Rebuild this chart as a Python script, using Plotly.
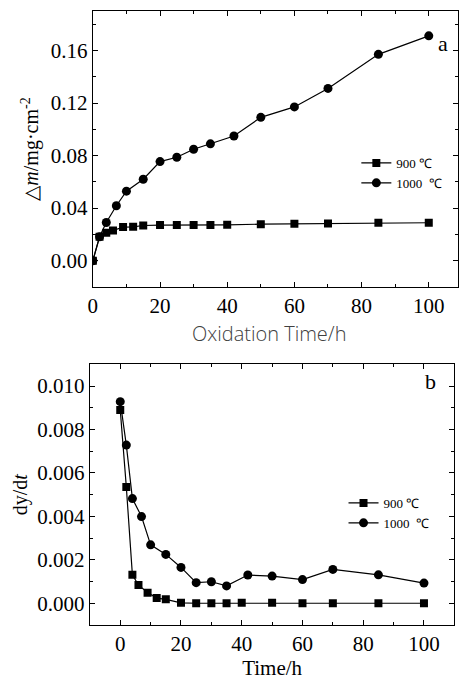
import plotly.graph_objects as go

# panel a: mass gain
t_900 = [0, 2, 4, 6, 9, 12, 15, 20, 25, 30, 35, 40, 50, 60, 70, 85, 100]
dm_900 = [0.0, 0.0182, 0.0213, 0.0230, 0.0256, 0.0258, 0.0268, 0.0271, 0.0271,
          0.0271, 0.0271, 0.0273, 0.0278, 0.0281, 0.0284, 0.0289, 0.0289]
t_1000 = [0, 2, 4, 7, 10, 15, 20, 25, 30, 35, 42, 50, 60, 70, 85, 100]
dm_1000 = [0.0, 0.0182, 0.0291, 0.0418, 0.0529, 0.0620, 0.0754, 0.0787, 0.0848,
           0.0889, 0.0949, 0.1091, 0.1170, 0.1311, 0.1570, 0.1711]

# panel b: rate
rate_900 = [0.0089, 0.00535, 0.00131, 0.00084, 0.00049, 0.00024, 0.00018, 0.00002,
            0.0, 0.0, 0.0, 0.00002, 0.00002, 0.0, 0.0, 0.0, 0.0]
rate_1000 = [0.00928, 0.00728, 0.00482, 0.00399, 0.00269, 0.00225, 0.00165, 0.00095,
             0.00099, 0.0008, 0.0013, 0.00125, 0.00109, 0.00156, 0.00131, 0.00093]

W, H = 459, 680
serif = "Liberation Serif"

fig = go.Figure()

sq = dict(symbol="square", size=8, color="black")
ci = dict(symbol="circle", size=9, color="black")
ln = dict(color="black", width=1.2)

fig.add_trace(go.Scatter(x=t_900, y=dm_900, mode="lines+markers", name="900 ℃",
                         marker=sq, line=ln, xaxis="x", yaxis="y", legend="legend"))
fig.add_trace(go.Scatter(x=t_1000, y=dm_1000, mode="lines+markers", name="1000  ℃",
                         marker=ci, line=ln, xaxis="x", yaxis="y", legend="legend"))
fig.add_trace(go.Scatter(x=t_900, y=rate_900, mode="lines+markers", name="900 ℃",
                         marker=sq, line=ln, xaxis="x2", yaxis="y2", legend="legend2"))
fig.add_trace(go.Scatter(x=t_1000, y=rate_1000, mode="lines+markers", name="1000  ℃",
                         marker=ci, line=ln, xaxis="x2", yaxis="y2", legend="legend2"))

ax = dict(showline=True, linecolor="black", linewidth=1.2, mirror="allticks",
          ticks="inside", ticklen=5, tickcolor="black", showgrid=False, zeroline=False,
          tickfont=dict(family=serif, size=21, color="black"),
          minor=dict(ticks="inside", ticklen=3, tickcolor="black"))

leg = dict(xanchor="left", yanchor="top", bgcolor="rgba(0,0,0,0)", itemwidth=30,
           font=dict(family=serif, size=13, color="black"), tracegroupgap=0)

fig.update_layout(
    width=W, height=H,
    margin=dict(l=0, r=0, t=0, b=0),
    paper_bgcolor="white", plot_bgcolor="white",
    font=dict(family=serif, color="black"),
    xaxis=dict(ax, domain=[89 / W, 1.0], range=[0, 108.7], dtick=20,
               minor=dict(ax["minor"], dtick=10), anchor="y"),
    yaxis=dict(ax, domain=[1 - 287 / H, 1 - 11 / H], range=[-0.02, 0.19], dtick=0.04,
               tickformat=".2f", minor=dict(ax["minor"], dtick=0.02), anchor="x",
               title=dict(text="△<i>m</i>/mg·cm<sup>-2</sup>", standoff=6,
                          font=dict(family=serif, size=20, color="black"))),
    xaxis2=dict(ax, domain=[86 / W, 455.3 / W], range=[-10, 110], dtick=20,
                minor=dict(ax["minor"], dtick=10), anchor="y2",
                title=dict(text="Time/h", standoff=0,
                           font=dict(family=serif, size=21, color="black"))),
    yaxis2=dict(ax, domain=[1 - 625 / H, 1 - 364.3 / H], range=[-0.001, 0.011],
                dtick=0.002, tickformat=".3f", minor=dict(ax["minor"], dtick=0.001),
                anchor="x2",
                title=dict(text="dy/d<i>t</i>", standoff=4,
                           font=dict(family=serif, size=20, color="black"))),
    legend=dict(leg, x=356 / W, y=1 - 148 / H),
    legend2=dict(leg, x=343 / W, y=1 - 488 / H),
    annotations=[
        dict(text="a", x=451 / W, y=1 - 29 / H, xref="paper", yref="paper", showarrow=False,
             font=dict(family=serif, size=22, color="black")),
        dict(text="b", x=439 / W, y=1 - 381 / H, xref="paper", yref="paper", showarrow=False,
             font=dict(family=serif, size=22, color="black")),
        # x title of panel a sits off-centre in a light sans face
        dict(text="Oxidation Time/h", x=268 / W, y=1 - 333 / H, xref="paper", yref="paper",
             showarrow=False,
             font=dict(family="Open Sans", size=20, weight=300, color="#404040")),
    ],
)

fig.write_html("out.html", config={"displayModeBar": False},
               post_script="document.body.style.margin='0';")
